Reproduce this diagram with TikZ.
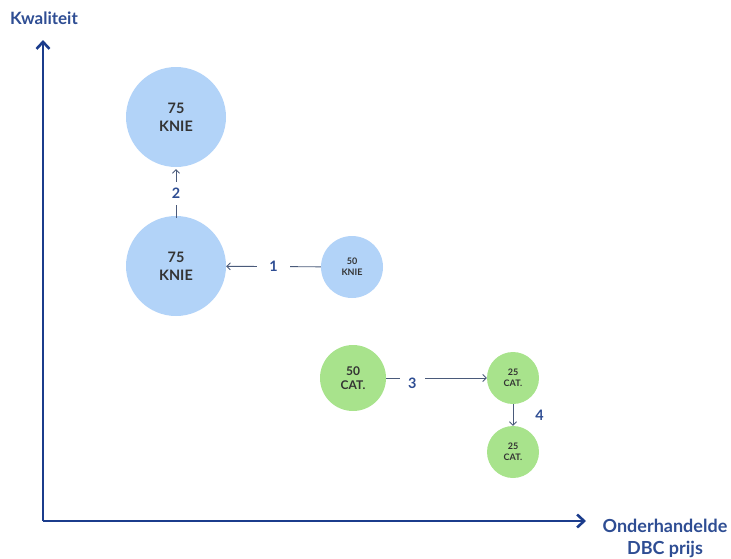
\documentclass[tikz,border=0pt]{standalone}
\usepackage{fontspec}
\setmainfont{Lato}
\usetikzlibrary{arrows.meta}
\definecolor{axisblue}{HTML}{1B3C8C}
\definecolor{lblblue}{HTML}{2E4D93}
\definecolor{kneeblue}{HTML}{B2D3F8}
\definecolor{catgreen}{HTML}{A8E38C}
\definecolor{txtgray}{HTML}{333333}
\definecolor{linegray}{HTML}{4A5A7A}
\tikzset{
  px/.style={x=1pt,y=-1pt},
  bubble/.style={circle,inner sep=0pt,align=center,text=txtgray,font=\bfseries},
  knie/.style={bubble,fill=kneeblue},
  cat/.style={bubble,fill=catgreen},
  axis/.style={draw=axisblue,line width=2.6pt,-{Straight Barb[length=7pt,width=13pt,line width=2.6pt]}},
  conn/.style={draw=linegray,line width=0.9pt,-{Straight Barb[length=3.5pt,width=7pt]}},
  steplbl/.style={fill=white,text=lblblue,font=\bfseries\Large,inner sep=3pt},
  axlbl/.style={text=lblblue,align=center}
}
\begin{document}
\begin{tikzpicture}[px]
\useasboundingbox (0,0) rectangle (731,558);
\coordinate (o) at (43,521);
\coordinate (ytip) at (43,40);
\coordinate (xtip) at (586,521);
\draw[axis] (o) -- (ytip);
\draw[axis] (o) -- (xtip);
\node[axlbl,font=\bfseries\fontsize{17}{19}\selectfont] (ylab) at (44,18) {Kwaliteit};
\node[axlbl,font=\bfseries\fontsize{18}{22}\selectfont] (xlab) at (665,538) {Onderhandelde\\DBC prijs};

\node[knie,minimum size=100pt,font=\bfseries\Large] (k75a) at (176,117) {75\\KNIE};
\node[knie,minimum size=100pt,font=\bfseries\Large] (k75b) at (176,266) {75\\KNIE};
\node[knie,minimum size=62pt,font=\bfseries\small] (k50) at (352,267) {50\\KNIE};
\node[cat,minimum size=66pt,font=\bfseries\large] (c50) at (353,378) {50\\CAT.};
\node[cat,minimum size=52pt,font=\bfseries\small] (c25a) at (513,378) {25\\CAT.};
\node[cat,minimum size=52pt,font=\bfseries\small] (c25b) at (513,452) {25\\CAT.};

\draw[conn] (k50) -- node[steplbl,inner xsep=12pt] {1} (k75b);
\draw[conn] ([yshift=-2pt]k75b.north) -- node[steplbl,inner ysep=6pt] {2} ([yshift=-2pt]k75a.south);
\draw[conn] (c50) -- node[steplbl,pos=0.26,inner xsep=8pt,yshift=-5pt] {3} (c25a);
\draw[conn] (c25a) -- node[text=lblblue,font=\bfseries\Large,right=22pt,inner sep=0pt] {4} (c25b);
\end{tikzpicture}
\end{document}
